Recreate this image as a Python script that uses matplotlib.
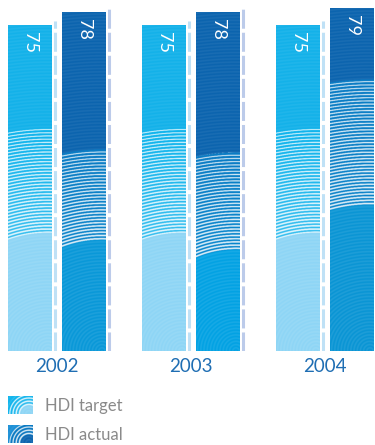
import numpy as np
import matplotlib
matplotlib.use('Agg')
import matplotlib.pyplot as plt
from matplotlib.colors import to_rgb

years = ['2002', '2003', '2004']
hdi_target = [75, 75, 75]
hdi_actual = [78, 78, 79]
series_names = ['HDI target', 'HDI actual']

# layout in pixels
FIG_W, FIG_H = 375, 445
BASELINE = 351          # y of bar bottoms, from the top
PX_PER_UNIT = 4.347     # vertical px per HDI point
GROUP_PX = 134          # distance between year groups
FIRST_GROUP = 57        # x of the first group centre
BAR_PX = 44
OFFSET_PX = 27

plt.rcParams['font.family'] = ['Lato', 'DejaVu Sans']
plt.rcParams['lines.scale_dashes'] = False

# ring texture zones (inner radius, outer radius) and colours per bar
target_style = dict(top='#12b1e9', mid='#0fb4ec', low='#8dd5f5',
                    dash='#bfe1f6', zones=[(118, 222)] * 3)
actual_style = dict(top='#0a63ae', mid='#0b7cc4',
                    low=['#0797d8', '#00a1e3', '#0894d4'],
                    dash='#bccbea', zones=[(111, 201), (101, 198), (146, 271)])


def ring_texture(w_px, h_px, top, mid, low, r_low, r_high, scale=3):
    """Concentric rings centred at the bottom-right of the bar."""
    ys = (np.arange(int(h_px * scale))[::-1] + 0.5) / scale
    xs = (np.arange(int(w_px * scale)) + 0.5) / scale
    X, Y = np.meshgrid(xs, ys)
    r = np.hypot(X - (w_px - 4), Y)

    top, mid, low = (np.array(to_rgb(c)) for c in (top, mid, low))
    wave = 0.5 + 0.5 * np.cos(2 * np.pi * r / 3.2)

    img = np.empty(r.shape + (3,))
    alpha = np.zeros(r.shape)

    z_low = r < r_low
    z_mid = (r >= r_low) & (r < r_high)
    z_top = r >= r_high

    img[z_low] = low
    alpha[z_low] = 0.10 * wave[z_low]

    t = ((r - r_low) / (r_high - r_low))[z_mid]
    img[z_mid] = (mid[None, :] * (1 - 0.3 * (1 - t))[:, None]
                  + low[None, :] * (0.3 * (1 - t))[:, None])
    thr = 0.40 + 0.30 * t
    alpha[z_mid] = 0.85 * np.clip((wave[z_mid] - thr) / 0.15, 0, 1)

    img[z_top] = top
    alpha[z_top] = 0.07 * wave[z_top]

    img = img * (1 - alpha[..., None]) + alpha[..., None]
    return np.clip(img, 0, 1)


fig = plt.figure(figsize=(FIG_W / 100, FIG_H / 100), dpi=100)
ax = fig.add_axes([0, (FIG_H - BASELINE) / FIG_H, 1, BASELINE / FIG_H])

x = np.arange(len(years))
width = BAR_PX / GROUP_PX
offset = OFFSET_PX / GROUP_PX

bars_t = ax.bar(x - offset, hdi_target, width, color='none', linewidth=0)
bars_a = ax.bar(x + offset, hdi_actual, width, color='none', linewidth=0)

for series, bars, style in [(hdi_target, bars_t, target_style),
                            (hdi_actual, bars_a, actual_style)]:
    for i, (val, bar) in enumerate(zip(series, bars)):
        x0, w, h = bar.get_x(), bar.get_width(), bar.get_height()
        low = style['low'][i] if isinstance(style['low'], list) else style['low']
        r_low, r_high = style['zones'][i]
        img = ring_texture(BAR_PX, h * PX_PER_UNIT, style['top'], style['mid'],
                           low, r_low, r_high)
        im = ax.imshow(img, extent=(x0, x0 + w, 0, h), aspect='auto',
                       interpolation='antialiased', zorder=2)
        im.set_clip_path(bar)

        # dashed rule to the right of each bar
        xd = x0 + w + 3 / GROUP_PX
        ax.plot([xd, xd], [0, h + 0.8], color=style['dash'], lw=2.2,
                dashes=(13.7, 2.9), solid_capstyle='butt',
                dash_capstyle='butt', zorder=3)

        ax.text(x0 + w / 2, h - 7 / PX_PER_UNIT, str(val), rotation=270,
                ha='center', va='top', color='white', fontsize=13,
                fontweight='normal', zorder=4)

for i, year in enumerate(years):
    ax.text(x[i], -16 / PX_PER_UNIT, year, ha='center', va='center',
            color='#1f6eb3', fontsize=13.5, clip_on=False)

ax.set_xlim(-FIRST_GROUP / GROUP_PX, (FIG_W - FIRST_GROUP) / GROUP_PX)
ax.set_ylim(0, BASELINE / PX_PER_UNIT)
ax.axis('off')

# legend swatches with the same ring fill
swatches = [
    (396, ('#8dd5f5', '#0fb4ec', '#0fb4ec'), (9, 22)),
    (425, ('#0a63ae', '#0b7cc4', '#1a8fd6'), (8, 20)),
]
for name, (top_px, (top_c, mid_c, low_c), (r_lo, r_hi)) in zip(series_names, swatches):
    sax = fig.add_axes([8 / FIG_W, (FIG_H - top_px - 18) / FIG_H, 25 / FIG_W, 18 / FIG_H])
    tex = ring_texture(25, 18, low_c, mid_c, top_c, r_lo, r_hi, scale=4)
    sax.imshow(tex, extent=(0, 1, 0, 1), aspect='auto', interpolation='antialiased')
    sax.axis('off')
    fig.text(45 / FIG_W, (FIG_H - top_px - 10) / FIG_H, name, ha='left',
             va='center', color='#8a8a8a', fontsize=12)

fig.savefig('out.png', dpi=100)
plt.close()
